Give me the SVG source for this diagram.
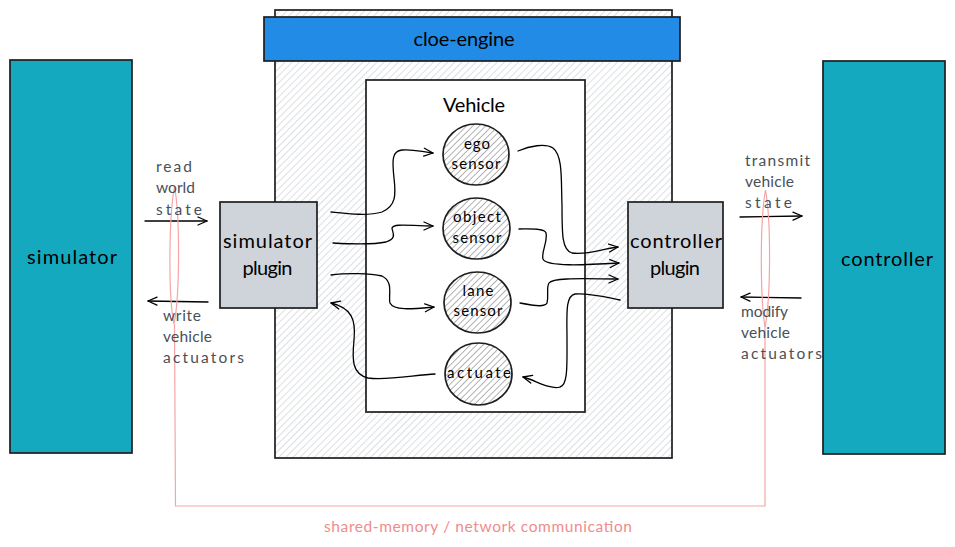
<svg xmlns="http://www.w3.org/2000/svg" width="955" height="547" viewBox="0 0 955 547">
<style>
text{font-family:"Lato","Liberation Sans",sans-serif;text-anchor:middle}
.b{stroke:#1e1e1e;stroke-width:1.7}
.big{font-size:20px;fill:#000}
.sm{font-size:15px;fill:#000}
.lab{font-size:15.5px;fill:#495057;text-anchor:start}
.c{fill:none;stroke:#000;stroke-width:1.3;stroke-linecap:round;stroke-linejoin:round}
.p{fill:none;stroke:#f4a6a6;stroke-width:1.2}
</style>
<defs>
<pattern id="h1" width="5" height="5" patternUnits="userSpaceOnUse" patternTransform="rotate(45)"><rect width="5" height="5" fill="#fff"/><line x1="0" y1="0" x2="0" y2="5" stroke="#d5dade" stroke-width="1.7"/></pattern>
<pattern id="h2" width="4.5" height="4.5" patternUnits="userSpaceOnUse" patternTransform="rotate(45)"><rect width="4.5" height="4.5" fill="#fff"/><line x1="0" y1="0" x2="0" y2="4.5" stroke="#9a9a9a" stroke-width="1.5"/></pattern>
<marker id="a" markerUnits="userSpaceOnUse" markerWidth="14" markerHeight="12" refX="11" refY="6" orient="auto"><path d="M2 2 L11 6 L2 10" fill="none" stroke="#000" stroke-width="1.3" stroke-linecap="round" stroke-linejoin="round"/></marker>
</defs>
<g id="simulator"><rect class="b" x="10" y="60" width="122" height="393" fill="#15a9bf"/><text class="big" x="72" y="264" textLength="90" lengthAdjust="spacing">simulator</text></g>
<g id="controller"><rect class="b" x="823" y="61" width="122" height="393" fill="#15a9bf"/><text class="big" x="887" y="266" textLength="92" lengthAdjust="spacing">controller</text></g>
<g id="engine-body"><rect class="b" x="275" y="10" width="397" height="448" fill="url(#h1)"/></g>
<g id="cloe-engine"><rect class="b" x="264" y="17" width="416" height="44" fill="#228be6"/><text class="big" x="464" y="46" textLength="101" lengthAdjust="spacing">cloe-engine</text></g>
<g id="vehicle"><rect class="b" x="366" y="80" width="219" height="332" fill="#fff"/><text class="big" x="474" y="112" textLength="62" lengthAdjust="spacing">Vehicle</text></g>
<g id="simulator-plugin"><rect class="b" x="220" y="202" width="97" height="106" fill="#ced4da"/><text class="big" x="267.500" y="248" textLength="89" lengthAdjust="spacing">simulator</text><text class="big" x="267.500" y="275" textLength="50" lengthAdjust="spacing">plugin</text></g>
<g id="controller-plugin"><rect class="b" x="628" y="202" width="95" height="106" fill="#ced4da"/><text class="big" x="676" y="248" textLength="92" lengthAdjust="spacing">controller</text><text class="big" x="675" y="275" textLength="50" lengthAdjust="spacing">plugin</text></g>
<g id="ego-sensor"><ellipse class="b" cx="476" cy="154.500" rx="33" ry="30.500" fill="url(#h2)"/><text class="sm" x="477" y="149" textLength="26" lengthAdjust="spacing">ego</text><text class="sm" x="476" y="169" textLength="49" lengthAdjust="spacing">sensor</text></g>
<g id="object-sensor"><ellipse class="b" cx="476.500" cy="228.500" rx="33.500" ry="30.500" fill="url(#h2)"/><text class="sm" x="477" y="222" textLength="48" lengthAdjust="spacing">object</text><text class="sm" x="477" y="243" textLength="49" lengthAdjust="spacing">sensor</text></g>
<g id="lane-sensor"><ellipse class="b" cx="477.500" cy="302.500" rx="33.500" ry="30.500" fill="url(#h2)"/><text class="sm" x="478" y="296" textLength="31" lengthAdjust="spacing">lane</text><text class="sm" x="478" y="316" textLength="49" lengthAdjust="spacing">sensor</text></g>
<g id="actuate"><ellipse class="b" cx="478.500" cy="374" rx="33.500" ry="31" fill="url(#h2)"/><text class="sm" x="479" y="378" textLength="64" lengthAdjust="spacing">actuate</text></g>
<g id="connectors">
<path class="c" marker-end="url(#a)" d="M331 212C350 214 368 216 382 212C396 206 396 195 394 178C392 160 392 151 402 150C414 149 422 152 433 153"/>
<path class="c" marker-end="url(#a)" d="M333 243C350 244 372 245 386 242C398 238 392 232 392 228C394 223 410 226 433 226"/>
<path class="c" marker-end="url(#a)" d="M331 275C345 273 370 273 382 276C394 282 388 295 390 303C394 311 412 309 434 307"/>
<path class="c" marker-end="url(#a)" d="M435 374C415 375 385 381 368 378C352 374 352 360 354 340C356 320 352 308 331 303"/>
<path class="c" marker-end="url(#a)" d="M518 151C530 146 545 143 553 148C563 156 561 180 562 205C562 235 562 250 572 253C590 255 600 249 618 247"/>
<path class="c" marker-end="url(#a)" d="M519 229C530 229 545 228 546 233C548 242 541 252 543 259C546 267 585 265 619 263"/>
<path class="c" marker-end="url(#a)" d="M520 303C530 305 545 308 547 303C549 295 546 288 549 283C553 277 590 279 618 279"/>
<path class="c" marker-end="url(#a)" d="M620 300C605 297 590 293 575 294C565 296 567 315 567 340C567 365 568 385 560 387C550 390 535 380 523 377"/>
<path class="c" marker-end="url(#a)" d="M145 221L207 221"/>
<path class="c" marker-end="url(#a)" d="M208 302L148 301"/>
<path class="c" marker-end="url(#a)" d="M740 217L802 216"/>
<path class="c" marker-end="url(#a)" d="M801 298L741 297"/>
<path class="p" d="M174.500 187C169 215 168 295 174 324C180 295 180 215 174.500 187M174.500 324L175.500 506L765 506L765 328C771 295 771 220 765.500 190C760 220 760 295 765 328"/>
</g>
<g id="labels">
<text class="lab" x="156" y="172" textLength="36" lengthAdjust="spacing">read</text>
<text class="lab" x="156" y="193" textLength="39" lengthAdjust="spacing">world</text>
<text class="lab" x="156" y="215" textLength="46" lengthAdjust="spacing">state</text>
<text class="lab" x="163" y="321" textLength="38" lengthAdjust="spacing">write</text>
<text class="lab" x="163" y="342" textLength="49" lengthAdjust="spacing">vehicle</text>
<text class="lab" x="163" y="363" textLength="81" lengthAdjust="spacing">actuators</text>
<text class="lab" x="745" y="166" textLength="65" lengthAdjust="spacing">transmit</text>
<text class="lab" x="745" y="187" textLength="49" lengthAdjust="spacing">vehicle</text>
<text class="lab" x="745" y="208" textLength="47" lengthAdjust="spacing">state</text>
<text class="lab" x="741" y="317" textLength="47" lengthAdjust="spacing">modify</text>
<text class="lab" x="741" y="338" textLength="49" lengthAdjust="spacing">vehicle</text>
<text class="lab" x="741" y="359" textLength="81" lengthAdjust="spacing">actuators</text>
<text x="478" y="532" font-size="15.500" fill="#f08c8c" textLength="308" lengthAdjust="spacing">shared-memory / network communication</text>
</g>
</svg>
